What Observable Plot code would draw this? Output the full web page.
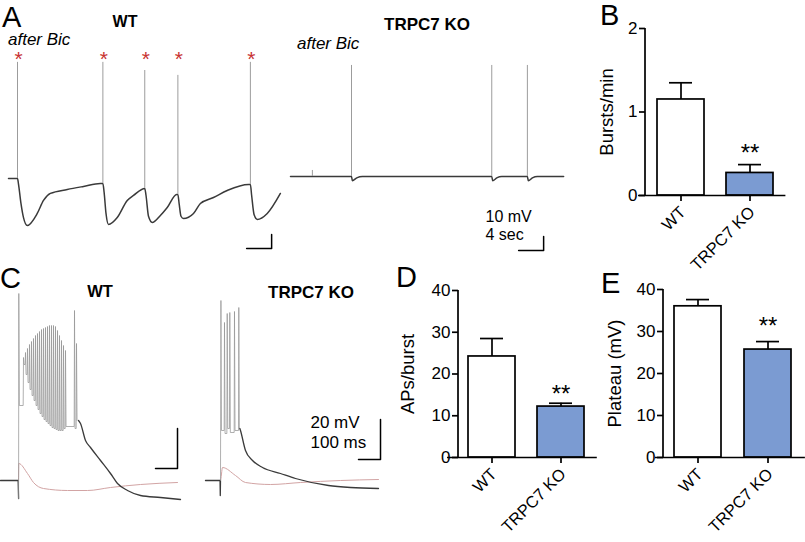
<!DOCTYPE html>
<html><head><meta charset="utf-8">
<script src="https://cdn.jsdelivr.net/npm/d3@7"></script>
<script src="https://cdn.jsdelivr.net/npm/@observablehq/plot@0.6"></script>
<style>
body{margin:0;background:#fff;}
#fig{position:relative;width:805px;height:542px;overflow:hidden;background:#fff;}
</style></head><body><div id="fig"></div>
<script>
// ---------------- Panel A (time in s, voltage in mV relative to rest) ----------------
const aWtSpikeT    = [1.44, 15.1, 21.8, 27.1, 38.7];
const aWtSpikePeak = [82.9, 82.9, 77.1, 73.6, 82.9];
const aWtSpikeBase = [0, -3.6, -7.1, -11.4, -4.3];
const aWtTrace = [[0,0],[1.44,0],[1.6,-4],[2.0,-18],[2.4,-28],[3.0,-33.6],[4.6,-25],[5.6,-15.7],[6.7,-10.7],[9.4,-7.9],[12.0,-5.7],[14.7,-3.6],[15.1,-3.6],[15.3,-10],[15.6,-25],[16.0,-32.9],[17.4,-27.9],[19.0,-15.7],[20.0,-12.1],[21.8,-7.1],[22.0,-12],[22.4,-27],[23.0,-31.4],[24.3,-26.4],[25.4,-20.7],[26.9,-11.4],[27.1,-11.4],[27.3,-18],[27.6,-27],[28.0,-28.6],[29.6,-25],[30.7,-17.9],[32.8,-13.6],[35.0,-8.6],[38.4,-4.3],[38.7,-4.3],[38.9,-12],[39.3,-26],[39.8,-29.3],[41.4,-25],[43.5,-10.7]];
const aKoSpikeT    = [3.5, 9.76, 32.2, 37.9];
const aKoSpikePeak = [4.3, 79.3, 79.3, 79.3];
const aKoTrace = [[0,0],[9.76,0],[9.9,-3],[10.6,-1],[11.5,0],[32.2,0],[32.35,-3],[33,-1],[33.8,0],[37.9,0],[38.05,-3],[38.7,-1],[39.5,0],[43.7,0]];
const aScaleSec = 4, aScaleMv = 10;
const aWtBarCorner = [42.1, -50];
const aKoBarCorner = [40.5, -52.9];
const aKoBarLabels = ["10 mV", "4 sec"];
const aKoBarLabelPos = [[31.2, -28.5], [31.2, -41.4]];

// ---------------- Panel C (time in ms, voltage in mV) ----------------
const cWtPre = [[-68,-70],[9,-70],[12,-70],[14,-79]];
const cWtSpikeT    = [15, 36.4, 45.5, 54.5, 63.6, 72.7, 81.8, 90.9, 100, 109.1, 118.2, 127.3, 136.4, 145.5, 154.5, 163.6, 172.7, 181.8, 190.9, 200, 209.1, 218.2, 227.3, 268.2, 277.3];
const cWtSpikePeak = [23.5, -8.5, -6, -4, -2, -0.5, 1, 2.5, 3.5, 4.5, 5.5, 6, 6.5, 7, 7.5, 7.5, 7.5, 7, 5, 2.5, 0, -2.5, -5, 15, -1.5];
const cWtSpikeTrough = [-32.5, -12, -17, -21, -24.5, -27.5, -30, -32.5, -34.5, -36.5, -38, -39.5, -40.5, -41.5, -42.5, -43.5, -44, -44.5, -45, -45, -45, -44, -43, -44, -40];
const cWtDecay = [[286.4,-40],[295.5,-41.5],[318.2,-50],[340.9,-53.5],[386.4,-60],[431.8,-66.5],[463.6,-71.5],[509.1,-75],[568.2,-77.5],[659.1,-78.5],[750,-79.5]];
const cWtRed = [[-68,-70],[13.6,-70],[15,-61.5],[54.5,-66.5],[81.8,-71],[127.3,-74],[236.4,-75],[327.3,-75],[431.8,-73.5],[568.2,-72],[736.4,-71]];

const cKoPre = [[-68.2,-70],[-2,-70],[-1,-77.5],[0,-70]];
const cKoSpikeT    = [2, 18.2, 30.5, 42.3, 63.6, 83.2];
const cKoSpikePeak = [20, 9, 13.5, 14, 14.5, 16.5];
const cKoSpikeTrough = [-45, -46.5, -44, -46, -45, -44];
const cKoDecay = [[88,-44],[90.9,-45],[113.6,-55],[145.5,-60],[190.9,-63.5],[272.7,-66.5],[340.9,-69],[490.9,-72.5],[590.9,-73.5],[718.2,-74]];
const cKoRed = [[-68.2,-70],[0,-70],[9.1,-63.5],[68.2,-67.5],[113.6,-71],[227.3,-72],[363.6,-71],[545.5,-70],[718.2,-69.5]];
const cScaleMs = 100, cScaleMv = 20;
const cWtBarCorner = [736.4, -64];
const cKoBarCorner = [727.3, -59.5];
const cKoBarLabels = ["20 mV", "100 ms"];
const cKoBarLabelPos = [[409, -40.8], [409, -50.8]];

// ---------------- Bar charts ----------------
const groups = ["WT", "TRPC7 KO"];
const burstsMean = [1.15, 0.27];
const burstsSem  = [0.20, 0.10];
const apsMean = [24.2, 12.2];
const apsSem  = [4.3, 0.8];
const plateauMean = [36.0, 25.7];
const plateauSem  = [1.6, 1.9];
const sigLabels = ["", "**"];

// ---------------- Rendering ----------------
const FONT = '"Liberation Sans", Arial, Helvetica, sans-serif';
const fig = document.getElementById("fig");
const TRACE = "#3a3a3a", SPIKE = "#9c9c9c", RED = "#d2a4a4", STAR = "#c83232";
const WHITE = "#ffffff", BLUE = "#7b9bd2";

function place(el, left, top) {
  el.style.position = "absolute";
  el.style.left = left + "px";
  el.style.top = top + "px";
  fig.append(el);
}
const px = d => d[0], py = d => d[1];
function scaleBar(corner, dx, dy) {
  return [[corner[0] - dx, corner[1]], [corner[0], corner[1]], [corner[0], corner[1] + dy]];
}
function burstLine(start, T, P, Tr) {
  const pts = [start];
  T.forEach((t, i) => {
    pts.push([t, P[i]]);
    pts.push([t + 2.5, Tr[i]]);
    if (i < T.length - 1) pts.push([T[i + 1] - 1.5, Tr[i]]);
  });
  return pts;
}
const baseStyle = {overflow: "visible", background: "transparent", fontFamily: FONT};
const SMOOTH = "monotone-x";

// A - WT
place(Plot.plot({
  width: 285, height: 260, margin: 0,
  x: {domain: [-1.28, 44.32], axis: null},
  y: {domain: [-58.6, 127.1], axis: null},
  style: baseStyle,
  marks: [
    Plot.line(aWtTrace, {x: px, y: py, stroke: TRACE, strokeWidth: 1.5, curve: SMOOTH}),
    Plot.ruleX(aWtSpikeT.map((t, i) => ({t, b: aWtSpikeBase[i], p: aWtSpikePeak[i]})), {x: "t", y1: "b", y2: "p", stroke: SPIKE, strokeWidth: 1}),
    Plot.text(aWtSpikeT, {x: d => d, y: () => d3.max(aWtSpikePeak), text: () => "*", fill: STAR, fontSize: 21, dy: -3, dx: 1}),
    Plot.line(scaleBar(aWtBarCorner, aScaleSec, aScaleMv), {x: px, y: py, stroke: "black", strokeWidth: 1.5})
  ]
}), 0, 0);

// A - KO
place(Plot.plot({
  width: 290, height: 260, margin: 0,
  x: {domain: [-0.8, 45.6], axis: null},
  y: {domain: [-60, 125.7], axis: null},
  style: baseStyle,
  marks: [
    Plot.line(aKoTrace, {x: px, y: py, stroke: TRACE, strokeWidth: 1.5, curve: SMOOTH}),
    Plot.ruleX(aKoSpikeT.map((t, i) => ({t, p: aKoSpikePeak[i]})), {x: "t", y1: 0, y2: "p", stroke: SPIKE, strokeWidth: 1}),
    Plot.line(scaleBar(aKoBarCorner, aScaleSec, aScaleMv), {x: px, y: py, stroke: "black", strokeWidth: 1.5}),
    Plot.text(aKoBarLabels, {x: (d, i) => aKoBarLabelPos[i][0], y: (d, i) => aKoBarLabelPos[i][1], text: d => d, textAnchor: "start", fontSize: 16, fill: "black"})
  ]
}), 285, 0);

// C - WT
place(Plot.plot({
  width: 195, height: 250, margin: 0,
  x: {domain: [-68.2, 818.2], axis: null},
  y: {domain: [-85, 40], axis: null},
  style: baseStyle,
  marks: [
    Plot.line(cWtRed, {x: px, y: py, stroke: RED, strokeWidth: 1, curve: SMOOTH}),
    Plot.line(cWtPre, {x: px, y: py, stroke: TRACE, strokeWidth: 1.3}),
    Plot.line(burstLine(cWtPre[cWtPre.length - 1], cWtSpikeT, cWtSpikePeak, cWtSpikeTrough), {x: px, y: py, stroke: "#959595", strokeWidth: 0.75}),
    Plot.line(cWtDecay, {x: px, y: py, stroke: TRACE, strokeWidth: 1.3, curve: SMOOTH}),
    Plot.line(scaleBar(cWtBarCorner, cScaleMs, cScaleMv), {x: px, y: py, stroke: "black", strokeWidth: 1.5})
  ]
}), 0, 260);

// C - KO
place(Plot.plot({
  width: 195, height: 250, margin: 0,
  x: {domain: [-113.6, 772.7], axis: null},
  y: {domain: [-85, 40], axis: null},
  style: baseStyle,
  marks: [
    Plot.line(cKoRed, {x: px, y: py, stroke: RED, strokeWidth: 1, curve: SMOOTH}),
    Plot.line(cKoPre, {x: px, y: py, stroke: TRACE, strokeWidth: 1.3}),
    Plot.line(burstLine(cKoPre[cKoPre.length - 1], cKoSpikeT, cKoSpikePeak, cKoSpikeTrough), {x: px, y: py, stroke: "#959595", strokeWidth: 0.75}),
    Plot.line(cKoDecay, {x: px, y: py, stroke: TRACE, strokeWidth: 1.3, curve: SMOOTH}),
    Plot.line(scaleBar(cKoBarCorner, cScaleMs, cScaleMv), {x: px, y: py, stroke: "black", strokeWidth: 1.5}),
    Plot.text(cKoBarLabels, {x: (d, i) => cKoBarLabelPos[i][0], y: (d, i) => cKoBarLabelPos[i][1], text: d => d, textAnchor: "start", fontSize: 17, fill: "black"})
  ]
}), 195, 260);

// Bar charts (axes drawn with Plot marks for full control)
function barChart(o) {
  const data = groups.map((g, i) => ({g, m: o.mean[i], s: o.sem[i], sig: sigLabels[i]}));
  const fw = o.width - o.ml - o.mr;
  const SW = 1.7;
  return Plot.plot({
    width: o.width, height: o.height,
    marginLeft: o.ml, marginRight: o.mr, marginTop: o.mt, marginBottom: o.mb,
    style: baseStyle,
    x: {domain: groups, paddingInner: o.pi, paddingOuter: o.po, axis: null},
    y: {domain: [0, o.max], axis: null},
    marks: [
      Plot.ruleX(data, {x: "g", y1: "m", y2: d => d.m + d.s, stroke: "black", strokeWidth: SW}),
      Plot.tickY(data, {x: "g", y: d => d.m + d.s, insetLeft: 12, insetRight: 12, stroke: "black", strokeWidth: SW}),
      Plot.barY(data.filter(d => d.g === groups[0]), {x: "g", y: "m", fill: WHITE, stroke: "black", strokeWidth: SW}),
      Plot.barY(data.filter(d => d.g === groups[1]), {x: "g", y: "m", fill: BLUE, stroke: "black", strokeWidth: SW}),
      Plot.text(data, {x: "g", y: d => d.m + d.s, text: "sig", fontSize: 24, dy: o.sigDy, fill: "black"}),
      // x axis line + ticks + labels
      Plot.ruleY([0], {insetLeft: -o.xl, insetRight: -o.xr, stroke: "black", strokeWidth: SW}),
      Plot.ruleX(groups, {x: d => d, y1: 0, y2: 0, insetBottom: -6, stroke: "black", strokeWidth: SW}),
      Plot.text(groups, {x: d => d, y: 0, text: d => d, rotate: -45, textAnchor: "end", lineAnchor: "middle", dx: 2, dy: 14, fontSize: 16.5, fill: "black"}),
      // y axis line + ticks + labels + title
      Plot.rect([0], {y1: 0, y2: o.max, insetLeft: -SW / 2, insetRight: fw - SW / 2, fill: "black"}),
      Plot.ruleY(o.ticks, {y: d => d, insetLeft: -6, insetRight: fw, stroke: "black", strokeWidth: SW}),
      Plot.text(o.ticks, {y: d => d, text: d => String(d), frameAnchor: "left", textAnchor: "end", dx: -8, fontSize: 17, fill: "black"}),
      Plot.text([o.label], {frameAnchor: "left", text: d => d, rotate: -90, textAnchor: "middle", dx: o.lo, fontSize: 18.5, fill: "black"})
    ]
  });
}
place(barChart({mean: burstsMean, sem: burstsSem, max: 2, ticks: [0, 1, 2], label: "Bursts/min",
  width: 245, height: 260, ml: 85, mr: 19.6, mt: 28, mb: 65, pi: 0.32, po: 0.17, xl: 7, xr: 0, lo: -38, sigDy: -11}), 560, 0);
place(barChart({mean: apsMean, sem: apsSem, max: 40, ticks: [0, 10, 20, 30, 40], label: "APs/burst",
  width: 215, height: 282, ml: 68, mr: 10.2, mt: 30, mb: 85, pi: 0.32, po: 0.144, xl: 11, xr: 2, lo: -50, sigDy: -9}), 390, 260);
place(barChart({mean: plateauMean, sem: plateauSem, max: 40, ticks: [0, 10, 20, 30, 40], label: "Plateau (mV)",
  width: 205, height: 282, ml: 63, mr: 3.1, mt: 29, mb: 85, pi: 0.33, po: 0.157, xl: 8, xr: 3, lo: -48, sigDy: -15}), 600, 260);

// Text overlay (panel letters, titles)
const overlay = d3.create("svg").attr("width", 805).attr("height", 542)
  .style("position", "absolute").style("left", "0px").style("top", "0px")
  .style("pointer-events", "none").style("font-family", FONT);
const texts = [
  {t: "A", x: 2, y: 27, s: 29}, {t: "B", x: 600, y: 25, s: 29}, {t: "C", x: 0, y: 288, s: 29},
  {t: "D", x: 396, y: 287, s: 29}, {t: "E", x: 601, y: 293, s: 29},
  {t: "WT", x: 125, y: 27, s: 16, w: "bold", a: "middle"},
  {t: "TRPC7 KO", x: 427, y: 30, s: 17, w: "bold", a: "middle"},
  {t: "WT", x: 100, y: 297, s: 16.5, w: "bold", a: "middle"},
  {t: "TRPC7 KO", x: 311, y: 298, s: 17, w: "bold", a: "middle"},
  {t: "after Bic", x: 8, y: 45, s: 17, i: true},
  {t: "after Bic", x: 297, y: 49, s: 17, i: true}
];
overlay.selectAll("text").data(texts).join("text")
  .attr("x", d => d.x).attr("y", d => d.y)
  .attr("font-size", d => d.s).attr("font-weight", d => d.w || "normal")
  .attr("font-style", d => d.i ? "italic" : "normal")
  .attr("text-anchor", d => d.a || "start").attr("fill", "black")
  .text(d => d.t);
fig.append(overlay.node());
</script></body></html>
